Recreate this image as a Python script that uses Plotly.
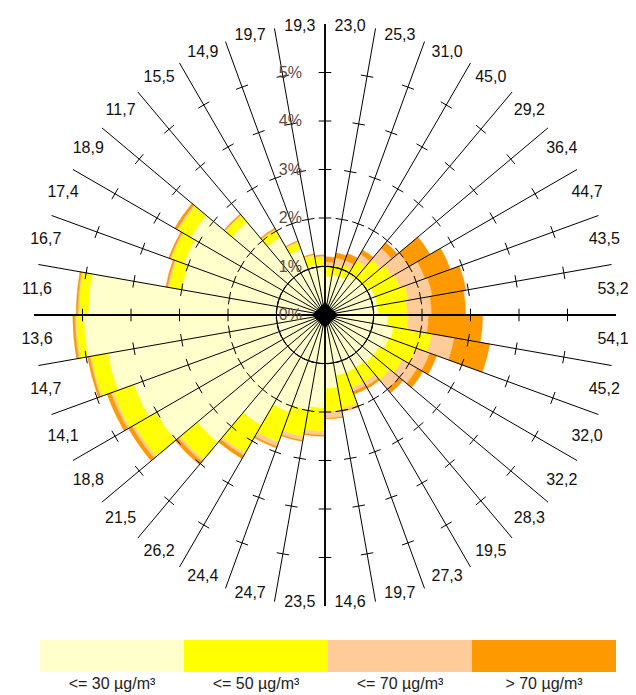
import plotly.graph_objects as go

# Sector centres (degrees, clockwise from north)
directions = [5, 15, 25, 35, 45, 55, 65, 75, 85, 95, 105, 115,
              125, 135, 145, 155, 165, 175, 185, 195, 205, 215, 225, 235,
              245, 255, 265, 275, 285, 295, 305, 315, 325, 335, 345, 355]

# Mean concentration per sector (labels at spoke ends)
mean_labels = ["23,0", "25,3", "31,0", "45,0", "29,2", "36,4", "44,7", "43,5", "53,2",
               "54,1", "45,2", "32,0", "32,2", "28,3", "19,5", "27,3", "19,7", "14,6",
               "23,5", "24,7", "24,4", "26,2", "21,5", "18,8", "14,1", "14,7", "13,6",
               "11,6", "16,7", "17,4", "18,9", "11,7", "15,5", "14,9", "19,7", "19,3"]

# Frequency (%) per concentration class and sector
freq_le30 = [0.80, 0.85, 0.85, 0.95, 1.00, 1.00, 1.10, 1.10, 1.10, 1.30, 1.44, 1.40,
             1.30, 1.30, 1.25, 1.26, 1.27, 1.52, 1.92, 1.99, 2.14, 2.63, 3.44, 4.03,
             4.20, 4.55, 4.97, 4.88, 3.00, 3.10, 3.20, 2.50, 1.85, 1.45, 1.05, 1.00]
freq_le50 = [0.20, 0.20, 0.25, 0.35, 0.50, 0.60, 0.55, 0.65, 0.60, 0.42, 0.80, 0.60,
             0.55, 0.45, 0.35, 0.34, 0.68, 0.47, 0.48, 0.56, 0.66, 0.67, 0.46, 0.52,
             0.45, 0.35, 0.16, 0.20, 0.27, 0.28, 0.30, 0.18, 0.18, 0.15, 0.20, 0.20]
freq_le70 = [0.10, 0.15, 0.10, 0.15, 0.30, 0.40, 0.55, 0.50, 0.50, 0.42, 0.47, 0.30,
             0.35, 0.25, 0.10, 0.08, 0.05, 0.14, 0.08, 0.08, 0.09, 0.05, 0.05, 0.05,
             0.05, 0.03, 0.03, 0.02, 0.03, 0.02, 0.03, 0.02, 0.02, 0.02, 0.02, 0.02]
freq_gt70 = [0.10, 0.10, 0.15, 0.10, 0.15, 0.50, 0.55, 0.70, 0.70, 1.11, 0.74, 0.15,
             0.13, 0.10, 0.05, 0.06, 0.02, 0.01, 0.02, 0.02, 0.03, 0.07, 0.08, 0.08,
             0.08, 0.04, 0.04, 0.03, 0.03, 0.03, 0.05, 0.02, 0.02, 0.01, 0.01, 0.02]

class_names = ["<= 30 µg/m³", "<= 50 µg/m³", "<= 70 µg/m³", "> 70 µg/m³"]
class_colors = ["#FFFFCC", "#FFFF00", "#FFCC99", "#FF9900"]

radial_ticks = [0, 1, 2, 3, 4, 5]
radial_ticktext = ["0%", "1%", "2%", "3%", "4%", "5%"]
spoke_angles = list(range(0, 360, 10))
main_axes = [0, 90, 180, 270]
r_spoke = 6.0
r_label = 5.96
r_max = 6.3

fig = go.Figure()

for name, vals, col in zip(class_names, [freq_le30, freq_le50, freq_le70, freq_gt70], class_colors):
    fig.add_trace(go.Barpolar(
        r=vals, theta=directions, width=[10] * len(directions),
        marker=dict(color=col, line=dict(color=col, width=0.5)),
        name=name, showlegend=False, hoverinfo="skip"))

# spokes
sr, st = [], []
for a in spoke_angles:
    sr += [0, r_spoke, None]
    st += [a, a, None]
fig.add_trace(go.Scatterpolar(r=sr, theta=st, mode="lines",
                              line=dict(color="black", width=1),
                              showlegend=False, hoverinfo="skip"))
mr, mt = [], []
for a in main_axes:
    mr += [0, r_spoke, None]
    mt += [a, a, None]
fig.add_trace(go.Scatterpolar(r=mr, theta=mt, mode="lines",
                              line=dict(color="black", width=1.8),
                              showlegend=False, hoverinfo="skip"))

# 1% circle
circ_t = list(range(0, 361, 2))
fig.add_trace(go.Scatterpolar(r=[1] * len(circ_t), theta=circ_t, mode="lines",
                              line=dict(color="black", width=1),
                              showlegend=False, hoverinfo="skip"))

# tick marks on every spoke
tr, tt, ta = [], [], []
for a in spoke_angles:
    for v in radial_ticks[1:]:
        tr.append(v)
        tt.append(a)
        ta.append(a)
fig.add_trace(go.Scatterpolar(r=tr, theta=tt, mode="markers",
                              marker=dict(symbol="line-ew", size=9, angle=ta,
                                          line=dict(color="black", width=1)),
                              showlegend=False, hoverinfo="skip"))

# centre blob
fig.add_trace(go.Scatterpolar(r=[0], theta=[0], mode="markers",
                              marker=dict(symbol="diamond", size=20, color="black"),
                              showlegend=False, hoverinfo="skip"))

# labels at spoke ends
fig.add_trace(go.Scatterpolar(r=[r_label] * len(directions), theta=directions, mode="text",
                              text=mean_labels, cliponaxis=False,
                              textfont=dict(family="Arial", size=16, color="#111111"),
                              showlegend=False, hoverinfo="skip"))

# colour legend as a bar strip
fig.add_trace(go.Bar(x=class_names, y=[1, 1, 1, 1], marker=dict(color=class_colors, line=dict(width=0)),
                     width=1, showlegend=False, hoverinfo="skip", xaxis="x", yaxis="y"))

# page has an 8 px body margin: figure is sized/positioned to compensate
OFF = 8
W, H = 636 - OFF, 695 - OFF
px_per_pct = 48.5
cx, cy, R = 325 - OFF, 315 - OFF, px_per_pct * r_max
fig.update_layout(
    width=W, height=H,
    margin=dict(l=0, r=0, t=0, b=0),
    paper_bgcolor="white", plot_bgcolor="white",
    font=dict(family="Arial", size=14, color="#222222"),
    bargap=0,
    polar=dict(
        domain=dict(x=[(cx - R) / W, (cx + R) / W], y=[(H - cy - R) / H, (H - cy + R) / H]),
        bgcolor="rgba(0,0,0,0)",
        radialaxis=dict(range=[0, r_max], tickvals=radial_ticks, ticktext=radial_ticktext,
                        angle=90, tickangle=90, side="counterclockwise", showline=False, showgrid=False,
                        ticks="outside", ticklen=17, tickcolor="rgba(0,0,0,0)",
                        tickfont=dict(family="Arial", size=16, color="#5e4a4a"),
                        layer="above traces"),
        angularaxis=dict(rotation=90, direction="clockwise", showline=False, showgrid=False,
                         showticklabels=False, ticks=""),
    ),
    xaxis=dict(domain=[(40 - OFF) / W, (616 - OFF) / W], range=[-0.5, 3.5], showgrid=False, showline=False,
               zeroline=False, ticks="", tickfont=dict(family="Arial", size=16, color="#222222"),
               fixedrange=True),
    yaxis=dict(domain=[(695 - 672) / H, (695 - 640) / H], range=[0, 1], visible=False, fixedrange=True),
)

fig.write_html("out.html")
